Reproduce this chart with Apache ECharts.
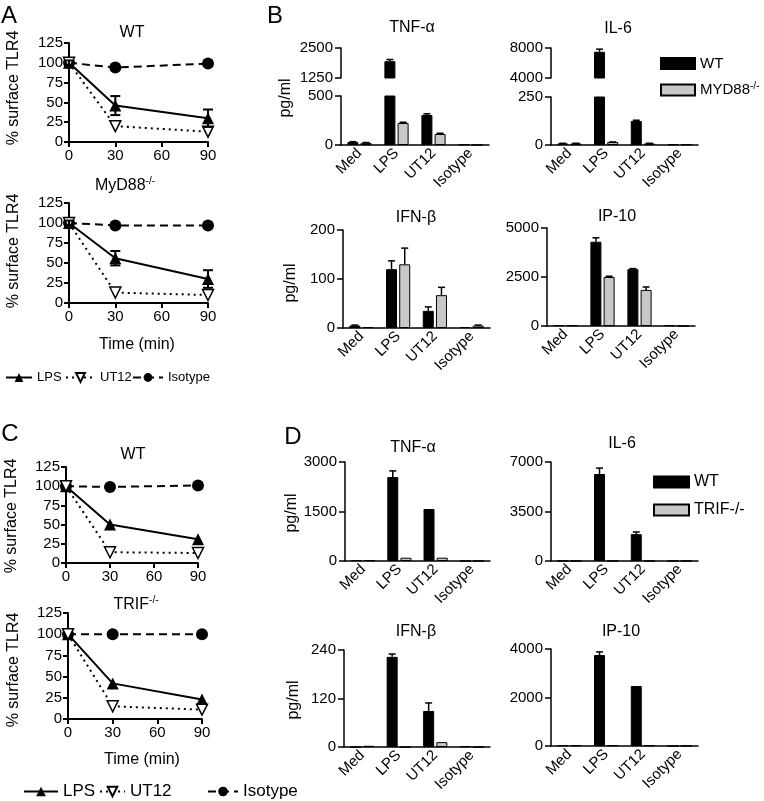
<!DOCTYPE html>
<html><head><meta charset="utf-8">
<script src="https://cdn.jsdelivr.net/npm/echarts@6/dist/echarts.min.js"></script>
<style>html,body{margin:0;padding:0;background:#fff}#c{width:764px;height:801px}</style>
</head><body><div id="c"></div><script>
const FONT = 'Liberation Sans, Arial, Helvetica, sans-serif';

// ---- Line panels (A, C): % surface TLR4 vs time (min)
const times = [0, 30, 90];
const aWtLPS = [100, 46, 30];
const aWtLPSErr = [3, 12, 11];
const aWtUT12 = [100, 20, 13];
const aWtIso = [100, 94, 99];
const aMyLPS = [100, 56, 30];
const aMyLPSErr = [3, 9, 11];
const aMyUT12 = [100, 13, 10];
const aMyIso = [100, 97, 97];
const cWtLPS = [100, 50, 31];
const cWtUT12 = [100, 14, 13];
const cWtIso = [100, 99, 101];
const cTrLPS = [100, 42, 23];
const cTrUT12 = [100, 15, 11];
const cTrIso = [100, 100, 100];

// ---- Bar panels (B, D): pg/ml
const cats = ['Med', 'LPS', 'UT12', 'Isotype'];
const bTnfWT = [30, 1950, 306, 6];   const bTnfWTErr = [4, 70, 12, 0];
const bTnfKO = [22, 224, 112, 0];    const bTnfKOErr = [3, 8, 8, 0];
const bIl6WT = [8, 7500, 125, 3];    const bIl6WTErr = [1, 350, 4, 0];
const bIl6KO = [8, 15, 8, 3];        const bIl6KOErr = [1, 1, 1, 0];
const bIfnWT = [5, 120, 35, 2];      const bIfnWTErr = [1, 17, 8, 0];
const bIfnKO = [2, 130, 67, 5];      const bIfnKOErr = [0, 33, 16, 1];
const bIpWT = [40, 4300, 2900, 40];  const bIpWTErr = [0, 200, 30, 0];
const bIpKO = [40, 2500, 1840, 0];   const bIpKOErr = [0, 40, 150, 0];
const dTnfWT = [25, 2545, 1576, 0];  const dTnfWTErr = [0, 185, 0, 0];
const dTnfKO = [25, 100, 100, 0];    const dTnfKOErr = [0, 0, 0, 0];
const dIl6WT = [0, 6150, 1900, 0];   const dIl6WTErr = [0, 420, 150, 0];
const dIl6KO = [0, 0, 0, 0];         const dIl6KOErr = [0, 0, 0, 0];
const dIfnWT = [0, 223, 89, 2];      const dIfnWTErr = [0, 7, 20, 0];
const dIfnKO = [3, 0, 12, 0];        const dIfnKOErr = [0, 0, 0, 0];
const dIpWT = [30, 3750, 2475, 0];   const dIpWTErr = [0, 130, 0, 0];
const dIpKO = [30, 30, 30, 0];       const dIpKOErr = [0, 0, 0, 0];

const grids = [], xAxes = [], yAxes = [], series = [];
const BLK = '#000';
const lbl = (fs, margin) => ({color: BLK, fontSize: fs, fontFamily: FONT, margin: margin, formatter: v => String(v)});

function linePanel(box, lps, lpsErr, ut, iso) {
  grids.push({left: box[0], top: box[1], width: box[2], height: box[3]});
  const gi = grids.length - 1;
  xAxes.push({gridIndex: gi, type: 'value', min: 0, max: 90, interval: 30,
    axisLine: {show: true, onZero: false, lineStyle: {color: BLK, width: 2}},
    axisTick: {show: true, length: 5, lineStyle: {color: BLK, width: 2}},
    splitLine: {show: false}, axisLabel: lbl(15, 6)});
  yAxes.push({gridIndex: gi, type: 'value', min: 0, max: 125, interval: 25,
    axisLine: {show: true, onZero: false, lineStyle: {color: BLK, width: 2}},
    axisTick: {show: true, length: 5, lineStyle: {color: BLK, width: 2}},
    splitLine: {show: false}, axisLabel: lbl(15, 6)});
  const xi = xAxes.length - 1, yi = yAxes.length - 1;
  const pts = arr => times.map((t, i) => [t, arr[i]]);
  series.push({type: 'line', name: 'Isotype', xAxisIndex: xi, yAxisIndex: yi, data: pts(iso),
    symbol: 'circle', symbolSize: 12, itemStyle: {color: BLK},
    lineStyle: {color: BLK, width: 2, type: [8, 5]}, z: 2});
  series.push({type: 'line', name: 'LPS', xAxisIndex: xi, yAxisIndex: yi, data: pts(lps),
    symbol: 'triangle', symbolSize: 12, itemStyle: {color: BLK},
    lineStyle: {color: BLK, width: 2}, z: 3});
  series.push({type: 'line', name: 'UT12', xAxisIndex: xi, yAxisIndex: yi, data: pts(ut),
    symbol: 'triangle', symbolRotate: 180, symbolSize: 11,
    itemStyle: {color: '#fff', borderColor: BLK, borderWidth: 1.5},
    lineStyle: {color: BLK, width: 2, type: [2, 4]}, z: 4});
  if (lpsErr) {
    series.push({type: 'custom', xAxisIndex: xi, yAxisIndex: yi, silent: true, z: 5,
      data: times.map((t, i) => [t, lps[i], lpsErr[i]]),
      renderItem: (p, api) => {
        const v = api.value(1), e = api.value(2);
        const a = api.coord([api.value(0), v + e]), b = api.coord([api.value(0), v - e]);
        const x = a[0], st = {stroke: BLK, lineWidth: 2};
        return {type: 'group', children: [
          {type: 'line', shape: {x1: x, y1: a[1], x2: x, y2: b[1]}, style: st},
          {type: 'line', shape: {x1: x - 5, y1: a[1], x2: x + 5, y2: a[1]}, style: st},
          {type: 'line', shape: {x1: x - 5, y1: b[1], x2: x + 5, y2: b[1]}, style: st}]};
      }});
  }
}

const BW = 11, GAP = '20%', OFF = 6.6;
function errSeries(xi, yi, vals, errs, off) {
  return {type: 'custom', xAxisIndex: xi, yAxisIndex: yi, silent: true, clip: true, z: 5,
    data: vals.map((v, i) => [i, v, errs[i]]),
    renderItem: (p, api) => {
      const v = api.value(1), e = api.value(2);
      if (!e) return null;
      const a = api.coord([api.value(0), v]), b = api.coord([api.value(0), v + e]);
      const x = a[0] + off, st = {stroke: BLK, lineWidth: 1.5};
      return {type: 'group', children: [
        {type: 'line', shape: {x1: x, y1: a[1], x2: x, y2: b[1]}, style: st},
        {type: 'line', shape: {x1: x - 3.5, y1: b[1], x2: x + 3.5, y2: b[1]}, style: st}]};
    }};
}

function barGrid(box, yMin, yMax, interval, showX, wt, wtErr, ko, koErr, koName) {
  grids.push({left: box[0], top: box[1], width: box[2], height: box[3]});
  const gi = grids.length - 1;
  xAxes.push({gridIndex: gi, type: 'category', data: cats, show: showX,
    axisLine: {lineStyle: {color: BLK, width: 1.5}},
    axisTick: {alignWithLabel: true, length: 5, lineStyle: {color: BLK, width: 1.5}},
    axisLabel: Object.assign(lbl(15, 6), {rotate: 45, interval: 0, formatter: null})});
  yAxes.push({gridIndex: gi, type: 'value', min: yMin, max: yMax, interval: interval,
    axisLine: {show: true, onZero: false, lineStyle: {color: BLK, width: 1.5}},
    axisTick: {show: true, length: 6, lineStyle: {color: BLK, width: 1.5}},
    splitLine: {show: false}, axisLabel: lbl(15, 8)});
  const xi = xAxes.length - 1, yi = yAxes.length - 1;
  series.push({type: 'bar', name: 'WT', xAxisIndex: xi, yAxisIndex: yi, data: wt,
    barWidth: BW, barGap: GAP, itemStyle: {color: BLK, borderColor: BLK, borderWidth: 1}});
  series.push({type: 'bar', name: koName, xAxisIndex: xi, yAxisIndex: yi, data: ko,
    barWidth: BW, barGap: GAP, itemStyle: {color: '#c8c8c8', borderColor: BLK, borderWidth: 1}});
  series.push(errSeries(xi, yi, wt, wtErr, -OFF));
  series.push(errSeries(xi, yi, ko, koErr, OFF));
}

// A
linePanel([69, 43, 139, 99], aWtLPS, aWtLPSErr, aWtUT12, aWtIso);
linePanel([69, 203, 139, 100], aMyLPS, aMyLPSErr, aMyUT12, aMyIso);
// C
linePanel([66, 467, 132, 96], cWtLPS, null, cWtUT12, cWtIso);
linePanel([68, 613, 134, 106], cTrLPS, null, cTrUT12, cTrIso);
// B
const MY = 'MYD88-/-', TR = 'TRIF-/-';
barGrid([341, 48, 148, 30], 1250, 2500, 1250, false, bTnfWT, bTnfWTErr, bTnfKO, bTnfKOErr, MY);
barGrid([341, 96, 148, 49], 0, 500, 500, true, bTnfWT, bTnfWTErr, bTnfKO, bTnfKOErr, MY);
barGrid([551, 48, 147, 30], 4000, 8000, 4000, false, bIl6WT, bIl6WTErr, bIl6KO, bIl6KOErr, MY);
barGrid([551, 97, 147, 48], 0, 250, 250, true, bIl6WT, bIl6WTErr, bIl6KO, bIl6KOErr, MY);
barGrid([343, 230, 147, 98], 0, 200, 100, true, bIfnWT, bIfnWTErr, bIfnKO, bIfnKOErr, MY);
barGrid([547, 228, 148, 98], 0, 5000, 2500, true, bIpWT, bIpWTErr, bIpKO, bIpKOErr, MY);
// D
barGrid([345, 462, 145, 99], 0, 3000, 1500, true, dTnfWT, dTnfWTErr, dTnfKO, dTnfKOErr, TR);
barGrid([551, 462, 147, 99], 0, 7000, 3500, true, dIl6WT, dIl6WTErr, dIl6KO, dIl6KOErr, TR);
barGrid([344, 650, 146, 97], 0, 240, 120, true, dIfnWT, dIfnWTErr, dIfnKO, dIfnKOErr, TR);
barGrid([551, 649, 147, 97], 0, 4000, 2000, true, dIpWT, dIpWTErr, dIpKO, dIpKOErr, TR);

const richSup = {
  a: {fontSize: 16, fontFamily: FONT, color: BLK, lineHeight: 20},
  s: {fontSize: 10, fontFamily: FONT, color: BLK, verticalAlign: 'top', lineHeight: 20}
};
const richSupL = {
  a: {fontSize: 15, fontFamily: FONT, color: BLK, lineHeight: 18},
  s: {fontSize: 10, fontFamily: FONT, color: BLK, verticalAlign: 'top', lineHeight: 18}
};
function txt(t, x, y, fs, rot) {
  return {type: 'text', x: x, y: y, rotation: rot || 0, silent: true,
    style: {text: t, x: 0, y: 0, fill: BLK, fontSize: fs, fontFamily: FONT,
      align: 'center', verticalAlign: 'middle', textAlign: 'center', textVerticalAlign: 'middle',
      rich: richSup}};
}
const R = Math.PI / 2;
const graphics = [
  txt('A', 9, 16, 24), txt('B', 275, 16, 24), txt('C', 10, 434, 24), txt('D', 293, 437, 24),
  txt('WT', 132, 33, 16), txt('{a|MyD88}{s|-/-}', 125, 186, 16),
  txt('WT', 133, 455, 16), txt('{a|TRIF}{s|-/-}', 136, 605, 16),
  txt('TNF-α', 412, 28, 16), txt('IL-6', 618, 29, 16), txt('IFN-β', 416, 218, 16), txt('IP-10', 617, 217, 16),
  txt('TNF-α', 413, 448, 16), txt('IL-6', 622, 444, 16), txt('IFN-β', 416, 632, 16), txt('IP-10', 621, 632, 16),
  txt('Time (min)', 137, 345, 16), txt('Time (min)', 142, 760, 16),
  txt('% surface TLR4', 14, 88, 16, R), txt('% surface TLR4', 14, 251, 16, R),
  txt('% surface TLR4', 12, 516, 16, R), txt('% surface TLR4', 14, 670, 16, R),
  txt('pg/ml', 286, 98, 16, R), txt('pg/ml', 291, 283, 16, R),
  txt('pg/ml', 292, 513, 16, R), txt('pg/ml', 294, 700, 16, R)
];

function oneLegend(name, left, top, w, h, fs) {
  return {data: [name], left: left, top: top, itemWidth: w, itemHeight: h,
    textStyle: {fontSize: fs, fontFamily: FONT, color: BLK}};
}
const legends = [
  oneLegend('LPS', 0, 366, 26, 11, 13),
  oneLegend('UT12', 60, 366, 29, 11, 13),
  oneLegend('Isotype', 127, 366, 30, 11, 13),
  oneLegend('LPS', 18, 778, 34, 12, 17),
  oneLegend('UT12', 94, 778, 25, 12, 17),
  oneLegend('Isotype', 202, 778, 30, 12, 17),
  {data: ['WT', MY], orient: 'vertical', left: 655, top: 51, icon: 'rect', itemWidth: 34, itemHeight: 11, itemGap: 10,
    formatter: n => n === MY ? '{a|MYD88}{s|-/-}' : n,
    textStyle: {fontSize: 15, fontFamily: FONT, color: BLK, rich: richSupL}},
  {data: ['WT', TR], orient: 'vertical', left: 648, top: 469, icon: 'rect', itemWidth: 35, itemHeight: 11, itemGap: 12,
    textStyle: {fontSize: 16, fontFamily: FONT, color: BLK}}
];

const chart = echarts.init(document.getElementById('c'), null, {renderer: 'canvas'});
chart.setOption({
  animation: false,
  backgroundColor: '#fff',
  grid: grids, xAxis: xAxes, yAxis: yAxes, series: series,
  legend: legends, graphic: graphics
});
</script></body></html>
